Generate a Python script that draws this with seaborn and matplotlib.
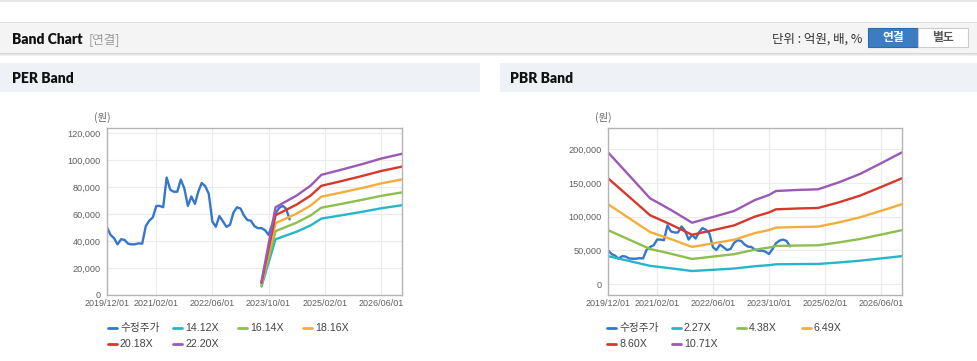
import numpy as np
import pandas as pd
import matplotlib
matplotlib.use("Agg")
import matplotlib.pyplot as plt
from matplotlib.patches import Rectangle
from matplotlib.lines import Line2D
import seaborn as sns

# ---------------- data ----------------
price_start = "2019-12-01"
price_values = [50000, 44500, 42000, 37500, 41300, 40800, 38000, 37500, 37600, 38300,
                38000, 51000, 55000, 57500, 66000, 66000, 65000, 87000, 78000, 76500,
                76500, 85500, 79000, 66000, 73000, 67500, 77000, 83000, 80500, 75000,
                54500, 50500, 58500, 54500, 50500, 52000, 61000, 65000, 64000, 59000,
                55500, 55000, 51000, 49500, 49500, 48000, 44500, 52000, 60500, 64500,
                66000, 64000, 56000]

per_dates = ["2023-08-01", "2023-12-01", "2024-06-01", "2024-10-01", "2025-01-01",
             "2025-06-01", "2026-01-01", "2026-06-01", "2026-12-01"]
per_labels = ["14.12X", "16.14X", "18.16X", "20.18X", "22.20X"]
per_1412 = [6300, 41300, 46900, 51600, 56600, 58700, 61800, 64200, 66500]
per_1614 = [7200, 47300, 53600, 59000, 64700, 67100, 70700, 73400, 76000]
per_1816 = [8100, 53200, 60300, 66300, 72800, 75500, 79500, 82600, 85600]
per_2018 = [9000, 59100, 67000, 73700, 80900, 83900, 88400, 91800, 95100]
per_2220 = [9900, 65000, 73700, 81100, 89000, 92300, 97200, 101000, 104600]

pbr_dates = ["2019-12-01", "2020-06-01", "2020-12-01", "2021-06-01", "2021-12-01",
             "2022-06-01", "2022-12-01", "2023-06-01", "2023-10-01", "2023-12-01",
             "2024-06-01", "2024-12-01", "2025-06-01", "2025-12-01", "2026-06-01",
             "2026-12-01"]
pbr_labels = ["2.27X", "4.38X", "6.49X", "8.60X", "10.71X"]
pbr_227 = [41400, 34200, 27000, 23300, 19300, 21100, 23000, 26400, 28000, 29300,
           29600, 29800, 32000, 34600, 38000, 41400]
pbr_438 = [80000, 66000, 52000, 44900, 37200, 40700, 44300, 51000, 54100, 56500,
           57100, 57500, 61800, 66800, 73300, 80000]
pbr_649 = [118500, 97800, 77100, 66600, 55100, 60300, 65700, 75600, 80100, 83700,
           84600, 85200, 91500, 99000, 108600, 118500]
pbr_860 = [157000, 129600, 102100, 88200, 73100, 79900, 87000, 100100, 106200, 110900,
           112100, 112900, 121300, 131200, 143900, 157000]
pbr_1071 = [195500, 161400, 127200, 109900, 91000, 99500, 108400, 124700, 132200, 138100,
            139600, 140600, 151000, 163400, 179200, 195500]

xtick_labels = ["2019/12/01", "2021/02/01", "2022/06/01", "2023/10/01", "2025/02/01", "2026/06/01"]
price_name = "수정주가"

colors = ["#3577cc", "#25b7c9", "#8dbf4e", "#f2ad3c", "#d7382c", "#9b59b6"]

# ---------------- figure ----------------
W, H = 978, 361
sns.set_theme(style="white")
plt.rcParams["font.family"] = ["Noto Sans CJK KR", "DejaVu Sans"]
fig = plt.figure(figsize=(W / 100, H / 100), dpi=100)
fig.patch.set_facecolor("white")


def frac(l, t, r, b):
    return [l / W, 1 - b / H, (r - l) / W, (b - t) / H]


def rect(l, t, r, b, color, z=0, ec="none", lw=0):
    x, y, w, h = frac(l, t, r, b)
    fig.patches.append(Rectangle((x, y), w, h, transform=fig.transFigure,
                                 facecolor=color, edgecolor=ec, linewidth=lw, zorder=z))


def ftext(x, y, s, **kw):
    fig.text(x / W, 1 - y / H, s, **kw)


# top thin line
fig.add_artist(Line2D([0, 1], [1 - 1 / H, 1 - 1 / H], transform=fig.transFigure,
                      color="#e6e6e6", linewidth=1.5))
# header bar
rect(0, 22, W, 53, "#f4f4f4")
rect(0, 22, W, 23, "#e0e0e0")
rect(0, 53, W, 54, "#d6d6d6")
rect(0, 54, W, 55, "#e6e6e6")
rect(0, 55, W, 56, "#f2f2f2")
ftext(12, 39.5, "Band Chart", fontsize=10, fontweight="heavy", color="#111111", va="center",
      family=["Lato", "DejaVu Sans"])
ftext(89, 39.5, "[연결]", fontsize=9, color="#999999", va="center")
ftext(862, 39.5, "단위 : 억원, 배, %", fontsize=9, color="#333333", va="center", ha="right")
# buttons
rect(868, 28, 918, 47, "#3b7cc2", ec="#2f6aa8", lw=0.8)
rect(918, 28, 968, 47, "#ffffff", ec="#cccccc", lw=0.8)
ftext(893, 38, "연결", fontsize=8.5, fontweight="bold", color="white", va="center", ha="center")
ftext(943, 38, "별도", fontsize=8.5, fontweight="bold", color="#555555", va="center", ha="center")

# panel headers
rect(0, 63, 480, 92, "#eef2f7")
rect(500, 63, W, 92, "#eef2f7")
ftext(12, 78.5, "PER Band", fontsize=10, fontweight="heavy", color="#111111", va="center",
      family=["Lato", "DejaVu Sans"])
ftext(510, 78.5, "PBR Band", fontsize=10, fontweight="heavy", color="#111111", va="center",
      family=["Lato", "DejaVu Sans"])

price_dates = pd.date_range(price_start, periods=len(price_values), freq="MS")
tick_dates = pd.to_datetime([s.replace("/", "-") for s in xtick_labels])
xmin, xmax = pd.Timestamp("2019-12-01"), pd.Timestamp("2026-12-01")


def make_panel(box, band_dates, band_series, band_labels, ylim, yticks, ylab_x, leg_x0):
    ax = fig.add_axes(frac(*box))
    ax.set_facecolor("white")
    frames = [pd.DataFrame({"date": price_dates, "value": price_values, "series": price_name})]
    bd = pd.to_datetime(band_dates)
    for lab, vals in zip(band_labels, band_series):
        frames.append(pd.DataFrame({"date": bd, "value": vals, "series": lab}))
    df = pd.concat(frames, ignore_index=True)
    order = [price_name] + band_labels
    sns.lineplot(data=df, x="date", y="value", hue="series", hue_order=order,
                 palette=dict(zip(order, colors)), linewidth=1.7, legend=False,
                 ax=ax, sort=False)
    ax.set_xlim(xmin, xmax)
    ax.set_ylim(*ylim)
    ax.set_xticks(tick_dates)
    ax.set_xticklabels(xtick_labels)
    ax.set_yticks(yticks)
    ax.set_yticklabels([f"{v:,}" for v in yticks])
    ax.set_xlabel("")
    ax.set_ylabel("")
    ax.grid(True, color="#ebebeb", linewidth=0.8)
    ax.set_axisbelow(True)
    for sp in ax.spines.values():
        sp.set_color("#b4b4b4")
        sp.set_linewidth(1.0)
    ax.tick_params(axis="both", length=0, colors="#606060")
    ax.tick_params(axis="x", pad=3, labelsize=6.5)
    ax.tick_params(axis="y", pad=4.5, labelsize=6.6)
    for lbl in ax.get_xticklabels() + ax.get_yticklabels():
        lbl.set_fontfamily(["Liberation Sans", "DejaVu Sans"])
    ftext(ylab_x, 117, "(원)", fontsize=7.5, color="#666666", ha="center", va="center")
    # legend
    items = [price_name] + band_labels
    for i, (lab, c) in enumerate(zip(items, colors)):
        row, col = divmod(i, 4)
        x0 = leg_x0 + col * 65
        y0 = 328 + row * 16
        fig.add_artist(Line2D([x0 / W, (x0 + 9) / W], [1 - y0 / H, 1 - y0 / H],
                              transform=fig.transFigure, color=c, linewidth=2))
        ftext(x0 + 12, y0, lab, fontsize=7.7, color="#444444", va="center",
              family=["Liberation Sans", "Noto Sans CJK KR"])
    return ax


make_panel((107, 128, 402, 295), per_dates,
           [per_1412, per_1614, per_1816, per_2018, per_2220], per_labels,
           (0, 123700), list(range(0, 120001, 20000)), 102, 108)
make_panel((608, 128, 902, 295), pbr_dates,
           [pbr_227, pbr_438, pbr_649, pbr_860, pbr_1071], pbr_labels,
           (-16300, 231600), list(range(0, 200001, 50000)), 603, 607)

fig.savefig("out.png", dpi=100, facecolor="white")
